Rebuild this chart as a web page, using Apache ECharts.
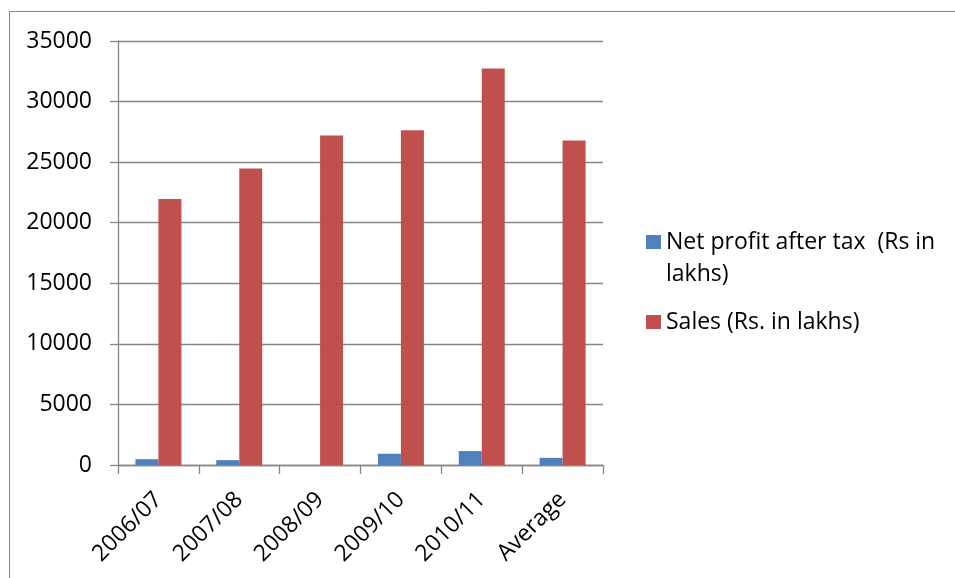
<!DOCTYPE html>
<html>
<head>
<meta charset="utf-8">
<script src="https://cdn.jsdelivr.net/npm/echarts@6/dist/echarts.min.js"></script>
<style>
  html, body { margin: 0; padding: 0; background: #ffffff; }
  #chart { width: 955px; height: 578px; }
</style>
</head>
<body>
<div id="chart"></div>
<script>
// Financial years plus the five-year average
const categories = ['2006/07', '2007/08', '2008/09', '2009/10', '2010/11', 'Average'];
// Net profit after tax (Rs in lakhs)
const netProfit = [480, 400, 0, 930, 1150, 590];
// Sales (Rs. in lakhs)
const sales = [21950, 24470, 27200, 27630, 32720, 26790];
// Value axis ticks
const yMin = 0, yMax = 35000, yStep = 5000;

const seriesNames = ['Net profit after tax  (Rs in lakhs)', 'Sales (Rs. in lakhs)'];

const FONT = 'Open Sans';
const GRAY = '#868686';

const chart = echarts.init(document.getElementById('chart'), null, { renderer: 'canvas' });

chart.setOption({
  animation: false,
  backgroundColor: '#ffffff',
  color: ['#4F81BD', '#C0504D'],
  graphic: [{
    type: 'rect',
    silent: true,
    shape: { x: 9.5, y: 11.5, width: 1000, height: 1000 },
    style: { fill: 'none', stroke: GRAY, lineWidth: 1 }
  }],
  grid: { left: 118, right: 352, top: 41, bottom: 113, containLabel: false },
  legend: [{
    data: [seriesNames[0]],
    left: 646,
    top: 194,
    padding: 0,
    orient: 'vertical',
    icon: 'rect',
    itemWidth: 15,
    itemHeight: 14,
    // leading blank line keeps the marker level with the first text line
    formatter: () => '\nNet profit after tax  (Rs in\nlakhs)',
    textStyle: { fontFamily: FONT, fontSize: 23, color: '#000', lineHeight: 32 }
  }, {
    data: [seriesNames[1]],
    left: 646,
    top: 306,
    padding: 0,
    orient: 'vertical',
    icon: 'rect',
    itemWidth: 15,
    itemHeight: 14,
    textStyle: { fontFamily: FONT, fontSize: 23, color: '#000', lineHeight: 32 }
  }],
  xAxis: {
    type: 'category',
    data: categories,
    boundaryGap: true,
    axisLine: { show: true, lineStyle: { color: GRAY, width: 1.3 } },
    axisTick: { show: true, inside: false, length: 9, alignWithLabel: false, lineStyle: { color: GRAY, width: 1.3 } },
    axisLabel: { rotate: 45, margin: 31, interval: 0, fontFamily: FONT, fontSize: 23, color: '#000', padding: [11, 0, 0, 0] },
    splitLine: { show: false }
  },
  yAxis: {
    type: 'value',
    min: yMin,
    max: yMax,
    interval: yStep,
    axisLine: { show: true, lineStyle: { color: GRAY, width: 1.3 } },
    axisTick: { show: true, inside: false, length: 8, lineStyle: { color: GRAY, width: 1.3 } },
    axisLabel: { margin: 26, fontFamily: FONT, fontSize: 23, color: '#000', formatter: (v) => String(v) },
    splitLine: { show: true, lineStyle: { color: GRAY, width: 1.3 } }
  },
  series: [{
    name: seriesNames[0],
    type: 'bar',
    data: netProfit,
    barWidth: 23,
    barGap: '0%'
  }, {
    name: seriesNames[1],
    type: 'bar',
    data: sales,
    barWidth: 23,
    barGap: '0%'
  }]
});
</script>
</body>
</html>
